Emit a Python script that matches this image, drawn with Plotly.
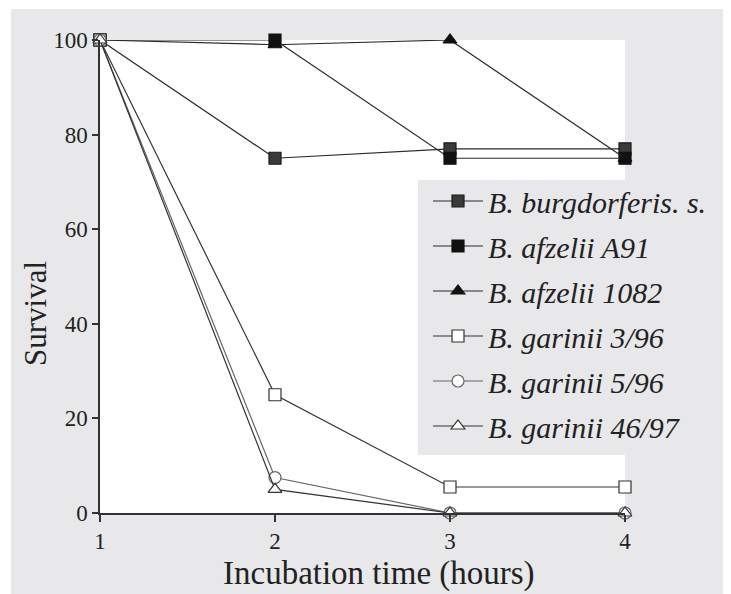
import plotly.graph_objects as go

hours = [1, 2, 3, 4]
series_names = [
    "B. burgdorferis. s.",
    "B. afzelii A91",
    "B. afzelii 1082",
    "B. garinii 3/96",
    "B. garinii 5/96",
    "B. garinii 46/97",
]
burgdorferi_ss = [100, 75, 77, 77]
afzelii_a91 = [100, 100, 75, 75]
afzelii_1082 = [100, 99, 100, 75]
garinii_3_96 = [100, 25, 5.5, 5.5]
garinii_5_96 = [100, 7.5, 0, 0]
garinii_46_97 = [100, 5, 0, 0]
x_ticks = [1, 2, 3, 4]
y_ticks = [0, 20, 40, 60, 80, 100]

values = [burgdorferi_ss, afzelii_a91, afzelii_1082, garinii_3_96, garinii_5_96, garinii_46_97]
styles = [
    dict(symbol="square", fill="#3a3a3a", edge="#1a1a1a", line="#2a2a2a"),
    dict(symbol="square", fill="#111111", edge="#111111", line="#2a2a2a"),
    dict(symbol="triangle-up", fill="#111111", edge="#111111", line="#2a2a2a"),
    dict(symbol="square", fill="#ffffff", edge="#333333", line="#333333"),
    dict(symbol="circle", fill="#ffffff", edge="#666666", line="#666666"),
    dict(symbol="triangle-up", fill="#ffffff", edge="#333333", line="#333333"),
]

GRAY = "#e8e8ea"
SERIF = "Liberation Serif"
OFF = 8  # page body margin offset

fig = go.Figure()
for name, vals, st in zip(series_names, values, styles):
    fig.add_trace(go.Scatter(
        x=hours, y=vals, name=name, mode="lines+markers",
        legendgroup=name,
        line=dict(color=st["line"], width=1.2),
        marker=dict(symbol=st["symbol"], size=12, color=st["fill"],
                    line=dict(color=st["edge"], width=1.2)),
        cliponaxis=False,
    ))

FW, FH = 731 - OFF, 594 - OFF
L, T, W, H = 100 - OFF, 40 - OFF, 525, 473

def px_x(p):
    return (p - OFF - L) / W

def px_y(p):
    return (T + H - (p - OFF)) / H

fig.update_layout(
    width=FW, height=FH,
    margin=dict(l=L, r=FW - L - W, t=T, b=FH - T - H, pad=0),
    paper_bgcolor=GRAY,
    plot_bgcolor="white",
    font=dict(family=SERIF, color="#222222"),
    showlegend=True,
    legend=dict(
        x=px_x(428), y=px_y(175), xanchor="left", yanchor="top",
        bgcolor="rgba(0,0,0,0)", borderwidth=0,
        font=dict(family=SERIF, size=30, color="#222222", style="italic"),
        tracegroupgap=3,
        itemwidth=50,
    ),
    xaxis=dict(
        range=[1, 4], tickvals=x_ticks, ticktext=[str(v) for v in x_ticks],
        showgrid=False, zeroline=False, showline=True, linecolor="#333333", linewidth=1.5,
        ticks="outside", ticklen=7, tickcolor="#333333", tickwidth=1.5,
        tickfont=dict(family=SERIF, size=23, color="#222222"),
    ),
    yaxis=dict(
        range=[0, 100], tickvals=y_ticks, ticktext=[str(v) for v in y_ticks],
        showgrid=False, zeroline=False, showline=True, linecolor="#333333", linewidth=1.5,
        ticks="outside", ticklen=6, tickcolor="#333333", tickwidth=1.5,
        tickfont=dict(family=SERIF, size=23, color="#222222"),
    ),
    shapes=[
        dict(type="rect", xref="paper", yref="paper", x0=px_x(OFF), x1=px_x(11), y0=px_y(594), y1=px_y(OFF),
             fillcolor="white", line=dict(width=0), layer="below"),
        dict(type="rect", xref="paper", yref="paper", x0=px_x(OFF), x1=px_x(731), y0=px_y(9), y1=px_y(OFF),
             fillcolor="white", line=dict(width=0), layer="below"),
        dict(type="rect", xref="paper", yref="paper", x0=px_x(418), x1=px_x(731), y0=px_y(455), y1=px_y(180),
             fillcolor=GRAY, line=dict(width=0), layer="below"),
    ],
    annotations=[
        dict(text="Survival", xref="paper", yref="paper", x=px_x(35), y=px_y(314),
             xanchor="center", yanchor="middle", textangle=-90, showarrow=False,
             font=dict(family=SERIF, size=31, color="#222222")),
        dict(text="Incubation time (hours)", xref="paper", yref="paper", x=px_x(379), y=px_y(573),
             xanchor="center", yanchor="middle", showarrow=False,
             font=dict(family=SERIF, size=33, color="#222222")),
    ],
)

fig.write_html("out.html")
